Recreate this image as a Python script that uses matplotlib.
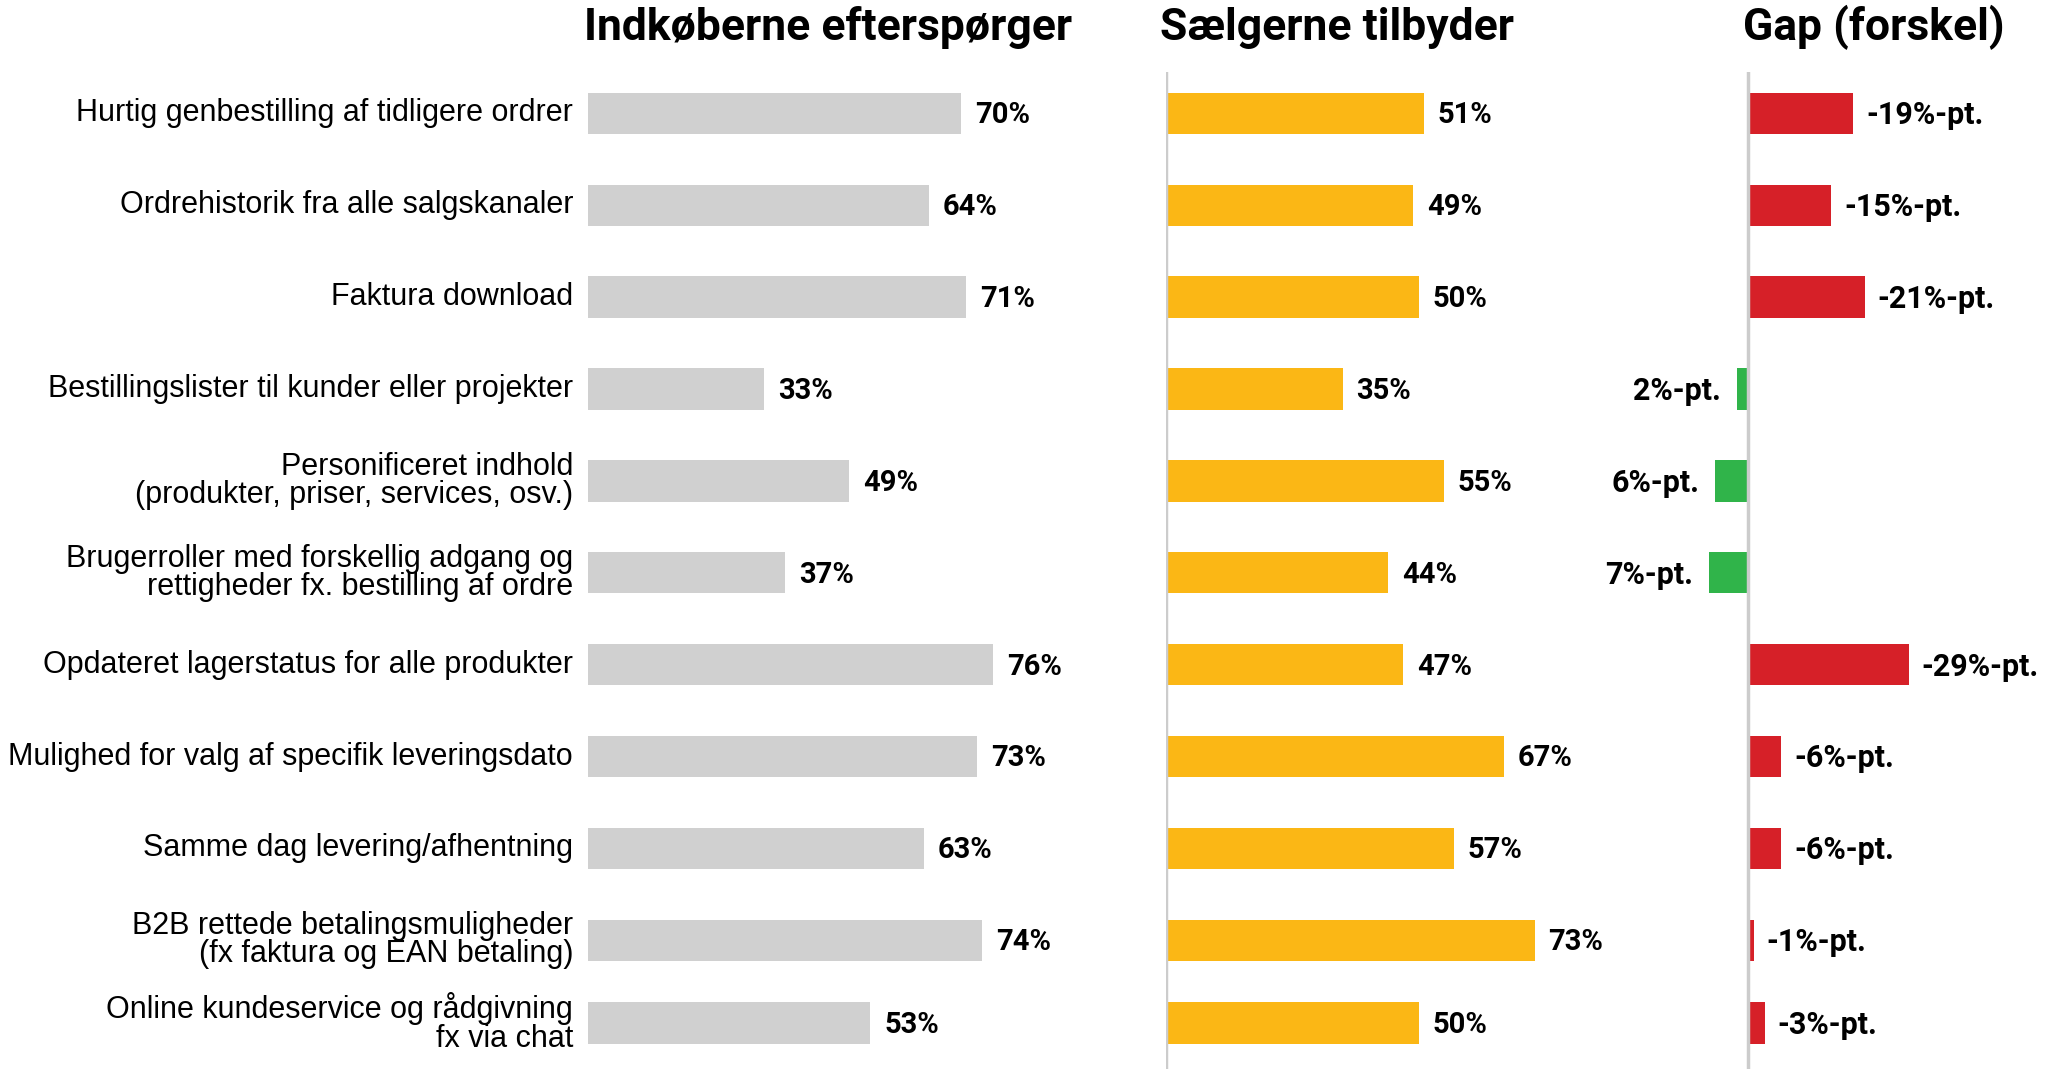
import numpy as np
import matplotlib
matplotlib.use("Agg")
import matplotlib.pyplot as plt

categories = [
    "Hurtig genbestilling af tidligere ordrer",
    "Ordrehistorik fra alle salgskanaler",
    "Faktura download",
    "Bestillingslister til kunder eller projekter",
    "Personificeret indhold\n(produkter, priser, services, osv.)",
    "Brugerroller med forskellig adgang og\nrettigheder fx. bestilling af ordre",
    "Opdateret lagerstatus for alle produkter",
    "Mulighed for valg af specifik leveringsdato",
    "Samme dag levering/afhentning",
    "B2B rettede betalingsmuligheder\n(fx faktura og EAN betaling)",
    "Online kundeservice og rådgivning\nfx via chat",
]
buyers = [70, 64, 71, 33, 49, 37, 76, 73, 63, 74, 53]
sellers = [51, 49, 50, 35, 55, 44, 47, 67, 57, 73, 50]
titles = ["Indkøberne efterspørger", "Sælgerne tilbyder", "Gap (forskel)"]

GREY = "#d0d0d0"
YELLOW = "#fbb715"
RED = "#d62028"
GREEN = "#30b44a"
LINE = "#cccccc"

regular = ["Liberation Sans", "DejaVu Sans"]
bold = ["Roboto", "DejaVu Sans"]

# gap = sellers minus buyers, drawn mirrored (shortfall to the right)
gap = [s - b for s, b in zip(sellers, buyers)]

W, H = 2048, 1069
fig = plt.figure(figsize=(W / 100, H / 100), dpi=100)

ypos = np.arange(len(categories), dtype=float)
ypos[-1] = 9.9
ylim = (10.40, -0.45)
top = 1 - 72 / H
bar_h = 0.45

def px(x):
    return x / W

s3 = 5.55
ax1 = fig.add_axes([px(588), 0, px(533), top])
ax2 = fig.add_axes([px(1166), 0, px(505), top])
ax3 = fig.add_axes([px(1748 - s3 * 28), 0, px(s3 * 50), top])

for ax in (ax1, ax2, ax3):
    ax.set_ylim(*ylim)
    ax.axis("off")
ax1.set_xlim(0, 100)
ax2.set_xlim(0, 100)
ax3.set_xlim(-28, 22)

ax1.barh(ypos, buyers, height=bar_h, color=GREY)
for y, v in zip(ypos, buyers):
    ax1.text(v + 2.6, y + 0.02, f"{v}%", va="center", ha="left", fontsize=21,
             fontweight="bold", family=bold)
for y, lab in zip(ypos, categories):
    ax1.text(-2.8, y, lab, va="center", ha="right", fontsize=22,
             family=regular, linespacing=0.92)

ax2.axvline(0, color=LINE, lw=2.5)
ax2.barh(ypos, sellers, height=bar_h, color=YELLOW)
for y, v in zip(ypos, sellers):
    ax2.text(v + 2.7, y + 0.02, f"{v}%", va="center", ha="left", fontsize=21,
             fontweight="bold", family=bold)

ax3.axvline(0, color=LINE, lw=2.5)
diff = [-g for g in gap]
cols = [RED if d > 0 else GREEN for d in diff]
ax3.barh(ypos, diff, height=bar_h, color=cols, clip_on=False)
for y, g, d in zip(ypos, gap, diff):
    if d > 0:
        ax3.text(d + 2.3, y + 0.02, f"{g}%-pt.", va="center", ha="left",
                 fontsize=22, fontweight="bold", family=bold)
    else:
        ax3.text(d - 2.8, y + 0.02, f"{g}%-pt.", va="center", ha="right",
                 fontsize=22, fontweight="bold", family=bold)

for x, t in zip([584, 1160, 1743], titles):
    fig.text(px(x), 1 - 40 / H, t, ha="left", va="baseline", fontsize=32,
             fontweight="bold", family=bold)

fig.savefig("out.png", dpi=100, facecolor="white")
